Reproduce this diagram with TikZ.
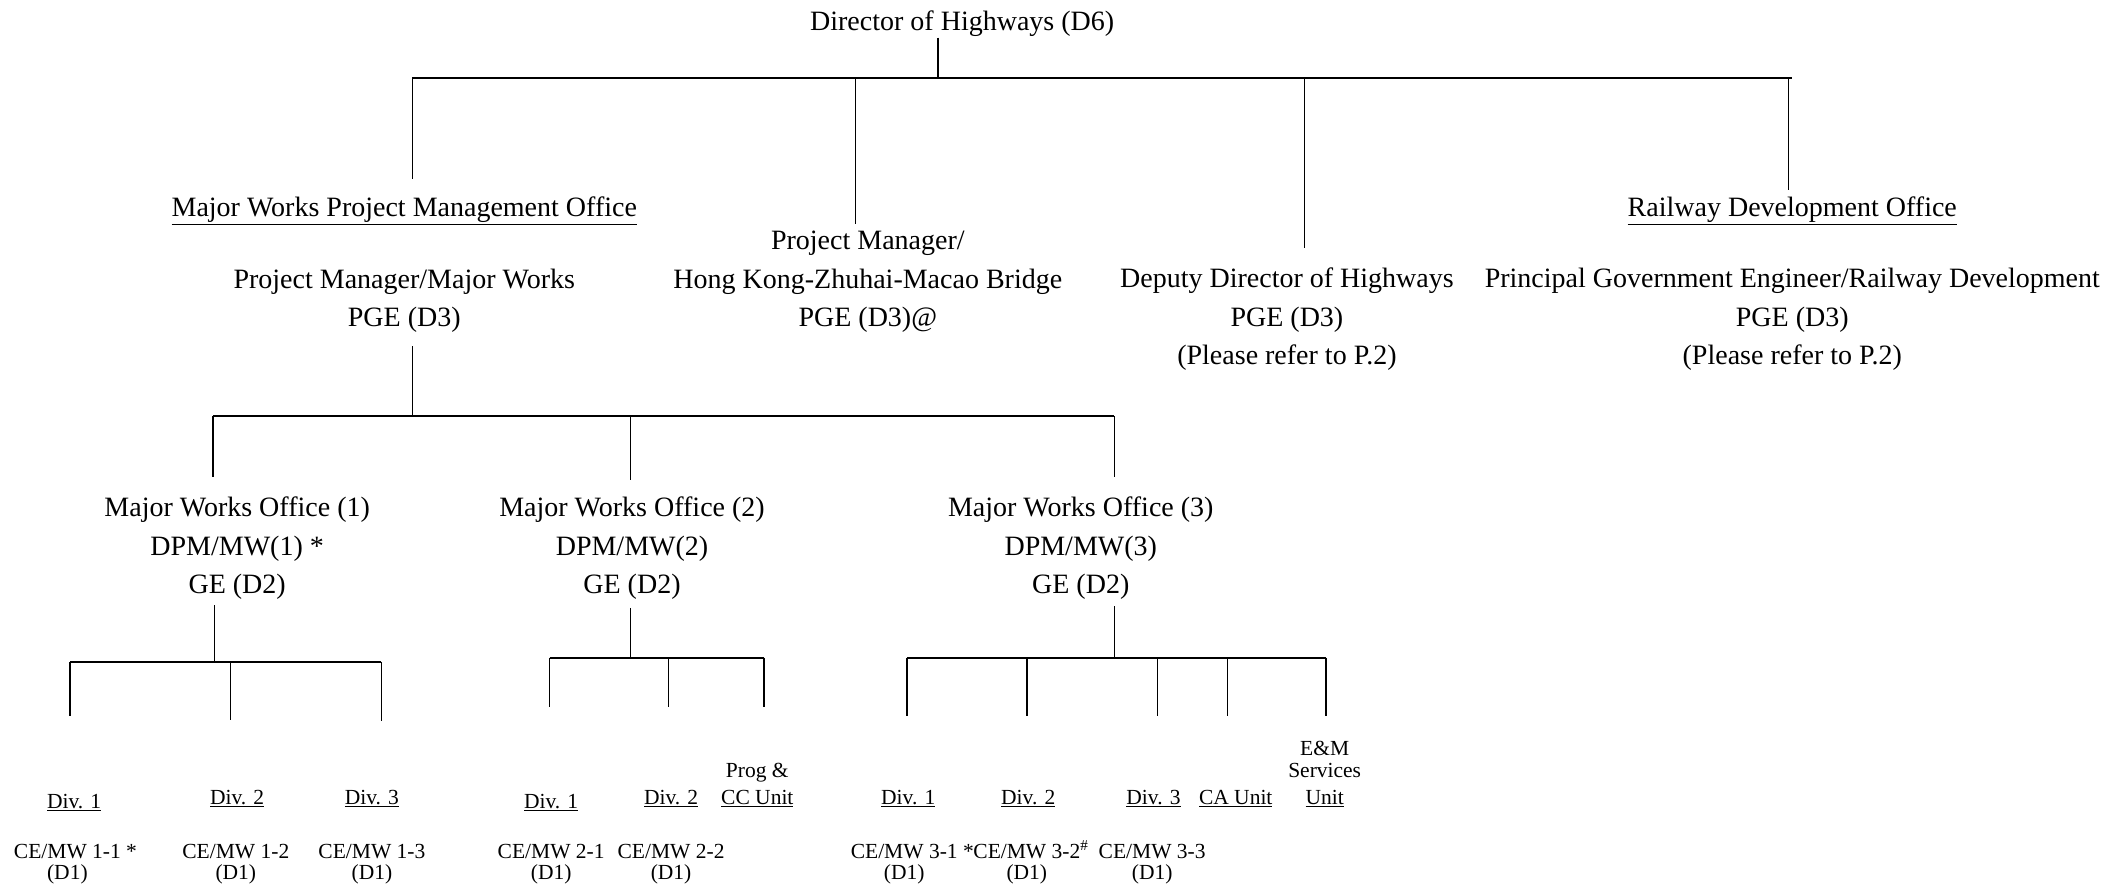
\documentclass[tikz,border=0pt]{standalone}
\usepackage{fontspec}
\setmainfont{Liberation Serif}
\begin{document}
\begin{tikzpicture}[x=1.3476pt,y=-1.3476pt,
  big/.style={font=\fontsize{28}{38.5}\selectfont, align=center, inner sep=0pt, anchor=base},
  small/.style={font=\fontsize{21.5}{21.6}\selectfont, align=center, inner sep=0pt, anchor=base},
  vline/.style={line width=1.3pt},
  hbar/.style={line width=2pt}]
\useasboundingbox (0,0) rectangle (1568,657);
% ---- texts, level 0/1 (anchor = baseline of last line)
\node[big] (dir) at (714,22.5) {Director of Highways (D6)};
\node[big] (mwpmo) at (300,160.5) {\underline{Major Works Project Management Office}};
\node[big] (pmmw) at (300,242.5) {Project Manager/Major Works\\PGE (D3)};
\node[big] (hzmb) at (644,242.5) {Project Manager/\\Hong Kong-Zhuhai-Macao Bridge\\PGE (D3)@};
\node[big] (ddh) at (955,270.5) {Deputy Director of Highways\\PGE (D3)\\(Please refer to P.2)};
\node[big] (rdo) at (1330,160.5) {\underline{Railway Development Office}};
\node[big] (pgerd) at (1330,270.5) {Principal Government Engineer/Railway Development\\PGE (D3)\\(Please refer to P.2)};
% ---- level 2
\node[big] (mwo1) at (176,440.5) {Major Works Office (1)\\DPM/MW(1) *\\GE (D2)};
\node[big] (mwo2) at (469,440.5) {Major Works Office (2)\\DPM/MW(2)\\GE (D2)};
\node[big] (mwo3) at (802,440.5) {Major Works Office (3)\\DPM/MW(3)\\GE (D2)};
% ---- level 3 labels
\node[small] (d11) at (55,600) {\underline{Div. 1}};
\node[small] (d12) at (176,597) {\underline{Div. 2}};
\node[small] (d13) at (276,597) {\underline{Div. 3}};
\node[small] (d21) at (409,600) {\underline{Div. 1}};
\node[small] (d22) at (498,597) {\underline{Div. 2}};
\node[small, font=\fontsize{21.5}{27}\selectfont] (d2p) at (562,597) {Prog \&\\\underline{CC Unit}};
\node[small] (d31) at (674,597) {\underline{Div. 1}};
\node[small] (d32) at (763,597) {\underline{Div. 2}};
\node[small] (d33) at (856,597) {\underline{Div. 3}};
\node[small] (d3ca) at (917,597) {\underline{CA Unit}};
\node[small] (d3em) at (983,597) {E\&M\\Services\\[5.4pt]\underline{Unit}};
% ---- CE/MW
\node[small] (c11) at (50,653) {CE/MW 1-1\rlap{ *}\\(D1)};
\node[small] (c12) at (175,653) {CE/MW 1-2\\(D1)};
\node[small] (c13) at (276,653) {CE/MW 1-3\\(D1)};
\node[small] (c21) at (409,653) {CE/MW 2-1\\(D1)};
\node[small] (c22) at (498,653) {CE/MW 2-2\\(D1)};
\node[small] (c31) at (671,653) {CE/MW 3-1\rlap{ *}\\(D1)};
\node[small] (c32) at (762,653) {CE/MW 3-2\rlap{\textsuperscript{\#}}\\(D1)};
\node[small] (c33) at (855,653) {CE/MW 3-3\\(D1)};
% ---- connector coordinates
\coordinate (dirS) at (696,28);   \coordinate (b0) at (696,58);
\coordinate (b0L) at (306,58);    \coordinate (b0R) at (1330,58);
\coordinate (mwpmoT) at (306,133);
\coordinate (hzmbT) at (635,166); \coordinate (hzmbB) at (635,58);
\coordinate (ddhT) at (968,184);  \coordinate (ddhB) at (968,58);
\coordinate (rdoT) at (1327,141); \coordinate (rdoB) at (1327,58);
\draw[vline] (dirS) -- (b0);
\draw[hbar] (b0L) -- (b0R);
\draw[vline] (b0L) -- (mwpmoT);
\draw[vline] (hzmbB) -- (hzmbT);
\draw[vline] (ddhB) -- (ddhT);
\draw[vline] (rdoB) -- (rdoT);
% level 2
\coordinate (pmmwS) at (306,257); \coordinate (b1) at (306,309);
\coordinate (b1L) at (158,309);   \coordinate (b1M) at (468,309); \coordinate (b1R) at (827,309);
\coordinate (mwo1T) at (158,354); \coordinate (mwo2T) at (468,356); \coordinate (mwo3T) at (827,354);
\draw[vline] (pmmwS) -- (b1);
\draw[hbar] (b1L) -- (b1R);
\draw[vline] (b1L) -- (mwo1T);
\draw[vline] (b1M) -- (mwo2T);
\draw[vline] (b1R) -- (mwo3T);
% level 3 group 1
\coordinate (mwo1S) at (159,449); \coordinate (g1) at (159,491);
\coordinate (g1a) at (52,491); \coordinate (g1b) at (171,491); \coordinate (g1c) at (283,491);
\coordinate (g1aT) at (52,531); \coordinate (g1bT) at (171,534); \coordinate (g1cT) at (283,535);
\draw[vline] (mwo1S) -- (g1);
\draw[hbar] (g1a) -- (g1c);
\draw[vline] (g1a) -- (g1aT);
\draw[vline] (g1b) -- (g1bT);
\draw[vline] (g1c) -- (g1cT);
% group 2
\coordinate (mwo2S) at (468,451); \coordinate (g2) at (468,488);
\coordinate (g2a) at (408,488); \coordinate (g2b) at (496,488); \coordinate (g2c) at (567,488);
\coordinate (g2aT) at (408,525); \coordinate (g2bT) at (496,525); \coordinate (g2cT) at (567,525);
\draw[vline] (mwo2S) -- (g2);
\draw[hbar] (g2a) -- (g2c);
\draw[vline] (g2a) -- (g2aT);
\draw[vline] (g2b) -- (g2bT);
\draw[vline] (g2c) -- (g2cT);
% group 3
\coordinate (mwo3S) at (827,450); \coordinate (g3) at (827,488);
\coordinate (g3a) at (673,488); \coordinate (g3b) at (762,488); \coordinate (g3c) at (859,488);
\coordinate (g3d) at (911,488); \coordinate (g3e) at (984,488);
\coordinate (g3aT) at (673,531); \coordinate (g3bT) at (762,531); \coordinate (g3cT) at (859,531);
\coordinate (g3dT) at (911,531); \coordinate (g3eT) at (984,531);
\draw[vline] (mwo3S) -- (g3);
\draw[hbar] (g3a) -- (g3e);
\draw[vline] (g3a) -- (g3aT);
\draw[vline] (g3b) -- (g3bT);
\draw[vline] (g3c) -- (g3cT);
\draw[vline] (g3d) -- (g3dT);
\draw[vline] (g3e) -- (g3eT);
\end{tikzpicture}
\end{document}
